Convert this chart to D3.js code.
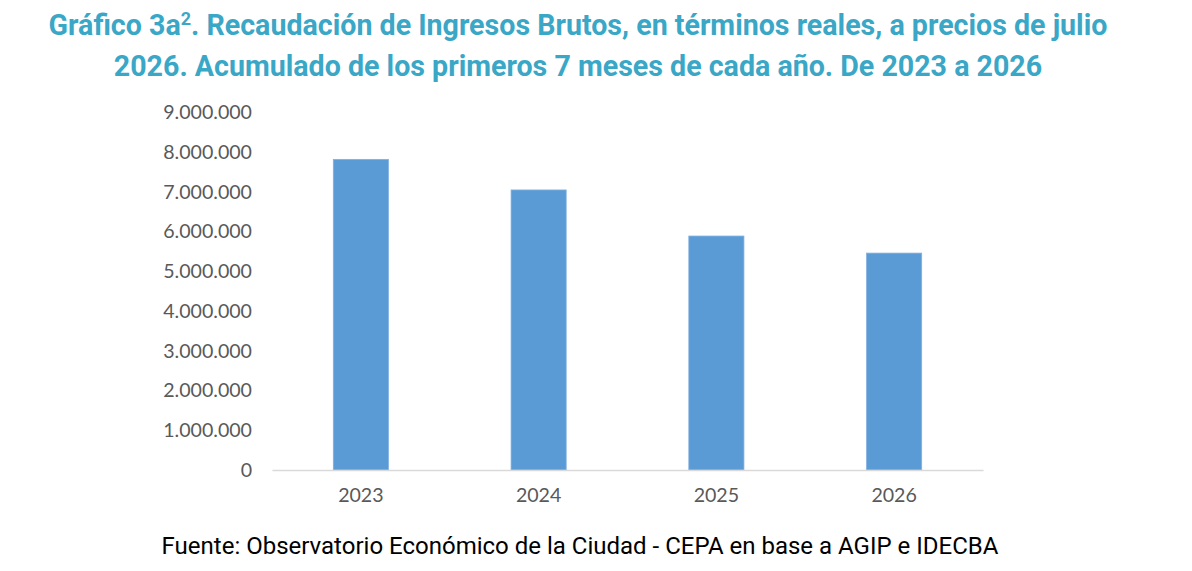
<!DOCTYPE html>
<html>
<head>
<meta charset="utf-8">
<script src="https://cdn.jsdelivr.net/npm/d3@7"></script>
<style>
  body { margin: 0; background: #fff; }
  svg { display: block; }
</style>
</head>
<body>
<div id="chart"></div>
<script>
// datos
var years = ["2023", "2024", "2025", "2026"];
var recaudacion = [7820000, 7050000, 5890000, 5460000];
var yTicks = [0, 1000000, 2000000, 3000000, 4000000, 5000000, 6000000, 7000000, 8000000, 9000000];

var width = 1192, height = 571;
var margin = {top: 112.5, right: 209, bottom: 101, left: 272};

var svg = d3.select("#chart")
  .append("svg")
    .attr("width", width)
    .attr("height", height);

// titulo
var title = svg.append("g")
    .attr("font-family", "Roboto, sans-serif")
    .attr("font-weight", "bold")
    .attr("font-size", 28.6)
    .attr("fill", "#3aa7c7")
    .attr("text-anchor", "middle");

var t1 = title.append("text").attr("x", 578).attr("y", 35);
t1.append("tspan").text("Gráfico 3a");
t1.append("tspan").attr("font-size", 18).attr("dy", -10).text("2");
t1.append("tspan").attr("dy", 10).text(". Recaudación de Ingresos Brutos, en términos reales, a precios de julio");

title.append("text").attr("x", 578).attr("y", 76)
    .text("2026. Acumulado de los primeros 7 meses de cada año. De 2023 a 2026");

var x = d3.scaleBand()
    .domain(years)
    .range([margin.left, width - margin.right])
    .paddingInner(0.69)
    .paddingOuter(0.345);

var y = d3.scaleLinear()
    .domain([0, 9000000])
    .range([height - margin.bottom, margin.top]);

var fmt = function(d) { return d3.format(",")(d).replace(/,/g, "."); };

// eje Y
var yAxis = svg.append("g")
    .attr("transform", "translate(" + (margin.left - 20) + ",0)")
    .call(d3.axisLeft(y).tickValues(yTicks).tickFormat(fmt).tickSize(0).tickPadding(0));
yAxis.select(".domain").remove();
yAxis.selectAll("text")
    .attr("font-family", "Lato, sans-serif")
    .attr("font-size", 19.6)
    .attr("fill", "#595959");

// barras
svg.append("g")
  .selectAll("rect")
  .data(years)
  .enter()
  .append("rect")
    .attr("x", function(d) { return x(d); })
    .attr("y", function(d, i) { return y(recaudacion[i]); })
    .attr("width", x.bandwidth())
    .attr("height", function(d, i) { return y(0) - y(recaudacion[i]); })
    .attr("fill", "#5b9bd5")
    .attr("stroke", "#7fb0e0")
    .attr("stroke-width", 0.8);

// eje X
var xAxis = svg.append("g")
    .attr("transform", "translate(0," + y(0) + ")")
    .call(d3.axisBottom(x).tickSize(0).tickPadding(18));
xAxis.select(".domain")
    .attr("stroke", "#d9d9d9")
    .attr("stroke-width", 1.5);
xAxis.selectAll("text")
    .attr("font-family", "Lato, sans-serif")
    .attr("font-size", 19.6)
    .attr("fill", "#595959");

// fuente
svg.append("text")
    .attr("x", 580)
    .attr("y", 554)
    .attr("text-anchor", "middle")
    .attr("font-family", "Roboto, sans-serif")
    .attr("font-size", 24)
    .attr("fill", "#000")
    .text("Fuente: Observatorio Económico de la Ciudad - CEPA en base a AGIP e IDECBA");
</script>
</body>
</html>
